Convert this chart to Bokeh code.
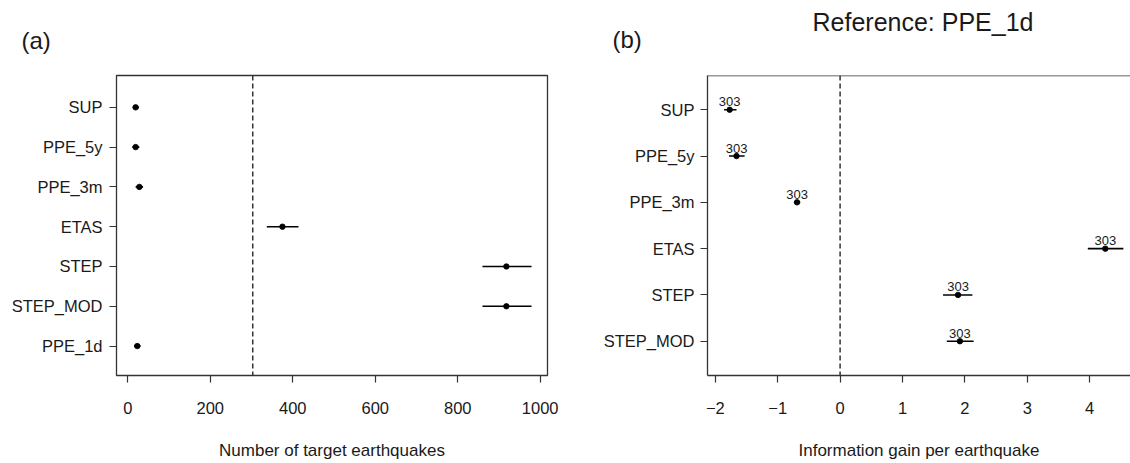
from bokeh.plotting import figure
from bokeh.layouts import row, column
from bokeh.models import Range1d, FixedTicker, Span, ColumnDataSource
from bokeh.embed import file_html
from bokeh.resources import INLINE
from bokeh.core.properties import value

# ---------------- data: panel (a) ----------------
models_a = ["SUP", "PPE_5y", "PPE_3m", "ETAS", "STEP", "STEP_MOD", "PPE_1d"]
count_est = [19, 19, 28, 375, 918, 918, 23]
count_lo = [12, 11, 19, 337, 860, 860, 15]
count_hi = [27, 28, 37, 414, 979, 979, 31]
target_count = 303
x_ticks_a = [0, 200, 400, 600, 800, 1000]
x_title_a = "Number of target earthquakes"

# ---------------- data: panel (b) ----------------
models_b = ["SUP", "PPE_5y", "PPE_3m", "ETAS", "STEP", "STEP_MOD"]
gain_est = [-1.77, -1.66, -0.69, 4.25, 1.89, 1.92]
gain_lo = [-1.86, -1.78, -0.74, 3.97, 1.65, 1.71]
gain_hi = [-1.66, -1.53, -0.64, 4.54, 2.12, 2.14]
n_eq = [303, 303, 303, 303, 303, 303]
gain_zero = 0
x_ticks_b = [-2, -1, 0, 1, 2, 3, 4]
x_tick_labels_b = ["\u22122", "\u22121", "0", "1", "2", "3", "4"]
x_title_b = "Information gain per earthquake"
reference_model = "PPE_1d"
panel_tags = ["(a)", "(b)"]

FONT = "Liberation Sans"
INK = "#1a1a1a"
LINE = "#333333"
HEADER_H = 70
PANEL_W = 565


def style(p, xticks, xlabels, yvals, ylabels, xtitle, axis_line):
    p.xgrid.visible = False
    p.ygrid.visible = False
    p.background_fill_color = "white"
    p.border_fill_color = "white"
    xa = p.xaxis[0]
    ya = p.yaxis[0]
    xa.ticker = FixedTicker(ticks=xticks)
    xa.major_label_overrides = {t: l for t, l in zip(xticks, xlabels)}
    ya.ticker = FixedTicker(ticks=yvals)
    ya.major_label_overrides = {t: l for t, l in zip(yvals, ylabels)}
    for ax in (xa, ya):
        ax.major_tick_out = 7
        ax.major_tick_in = 0
        ax.minor_tick_line_color = None
        ax.major_tick_line_color = LINE
        ax.major_tick_line_width = 1.2
        ax.major_label_text_font = FONT
        ax.major_label_text_font_size = "16.5px"
        ax.major_label_text_color = INK
        ax.axis_line_color = LINE if axis_line else None
        ax.axis_line_width = 1.3
    xa.major_label_standoff = 19
    ya.major_label_standoff = 7
    xa.axis_label = xtitle
    xa.axis_label_standoff = 24
    xa.axis_label_text_font = FONT
    xa.axis_label_text_font_size = "17px"
    xa.axis_label_text_font_style = "normal"
    xa.axis_label_text_color = INK


def header(texts, xs, ys, sizes, aligns):
    h = figure(frame_width=PANEL_W, frame_height=HEADER_H, min_border=0,
               x_range=Range1d(0, PANEL_W), y_range=Range1d(0, HEADER_H),
               x_axis_type=None, y_axis_type=None,
               output_backend="svg", toolbar_location=None, title=None)
    h.outline_line_color = None
    h.grid.visible = False
    h.background_fill_color = "white"
    h.border_fill_color = "white"
    for t, x, y, s, a in zip(texts, xs, ys, sizes, aligns):
        h.text(x=[x], y=[y], text=[t], text_font=value(FONT), text_font_size=s,
               text_align=a, text_baseline="middle", text_color=INK)
    return h


# ---------------- headers ----------------
ha = header([panel_tags[0]], [21], [30.3], ["24px"], ["left"])
hb = header([panel_tags[1], "Reference: " + reference_model],
            [47, 357.5], [31.3, 48.7], ["24px", "25px"], ["left", "center"])

# ---------------- panel (a) ----------------
ya_pos = list(range(len(models_a), 0, -1))
pa = figure(frame_width=431, frame_height=300,
            min_border_left=116, min_border_right=18,
            min_border_top=5, min_border_bottom=88,
            x_range=Range1d(-27.4, 1017.7), y_range=Range1d(0.26, 7.80),
            output_backend="svg", toolbar_location=None, title=None)
pa.outline_line_color = LINE
pa.outline_line_width = 1.3
style(pa, x_ticks_a, [str(t) for t in x_ticks_a], ya_pos, models_a, x_title_a, False)

src_a = ColumnDataSource(dict(y=ya_pos, est=count_est, lo=count_lo, hi=count_hi))
pa.add_layout(Span(location=target_count, dimension="height", line_color=LINE,
                   line_width=1.5, line_dash="5 3"))
pa.segment(x0="lo", x1="hi", y0="y", y1="y", source=src_a, line_color="black", line_width=1.6)
pa.scatter(x="est", y="y", source=src_a, size=5.5, color="black", line_width=0.8)

# ---------------- panel (b) ----------------
yb_pos = list(range(len(models_b), 0, -1))
yb_start, yb_end = 0.26, 6.74
pb = figure(frame_width=423, frame_height=300,
            min_border_left=142, min_border_right=0,
            min_border_top=5, min_border_bottom=88,
            x_range=Range1d(-2.125, 4.654), y_range=Range1d(yb_start, yb_end),
            output_backend="svg", toolbar_location=None, title=None)
pb.outline_line_color = None
style(pb, x_ticks_b, x_tick_labels_b, yb_pos, models_b, x_title_b, True)
pb.yaxis[0].major_label_standoff = 6
pb.add_layout(Span(location=yb_end, dimension="width", line_color=LINE, line_width=1.3))

src_b = ColumnDataSource(dict(y=yb_pos, est=gain_est, lo=gain_lo, hi=gain_hi,
                              n=[str(v) for v in n_eq]))
pb.add_layout(Span(location=gain_zero, dimension="height", line_color=LINE,
                   line_width=1.5, line_dash="5 3"))
pb.segment(x0="lo", x1="hi", y0="y", y1="y", source=src_b, line_color="black", line_width=1.6)
pb.scatter(x="est", y="y", source=src_b, size=5.5, color="black", line_width=0.8)
pb.text(x="est", y="y", text="n", source=src_b, text_font=value(FONT),
        text_font_size="13px", text_align="center", text_baseline="middle",
        y_offset=-8, text_color=INK)

layout = column(row(ha, hb), row(pa, pb))
open("out.html", "w").write(file_html(layout, INLINE))
